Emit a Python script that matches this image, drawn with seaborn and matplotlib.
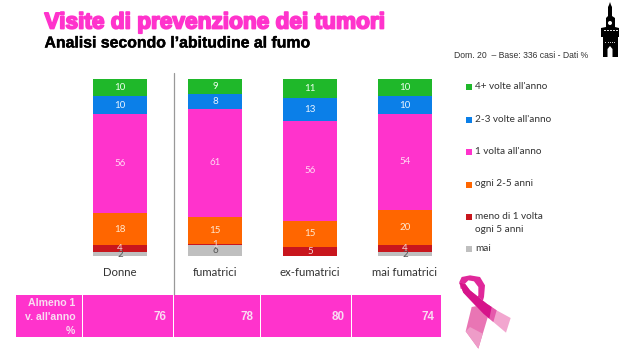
import numpy as np
import matplotlib
matplotlib.use("Agg")
import matplotlib.pyplot as plt
import matplotlib.patheffects as pe
from matplotlib.patches import Rectangle, Polygon, Circle
import seaborn as sns

W, H = 638, 359
groups = ["Donne", "fumatrici", "ex-fumatrici", "mai fumatrici"]
mai = [2, 6, 0, 2]
meno = [4, 1, 5, 4]
ogni = [18, 15, 15, 20]
una = [56, 61, 56, 54]
due = [10, 8, 13, 10]
quattro = [10, 9, 11, 10]
series_names = ["mai", "meno di 1 volta\nogni 5 anni", "ogni 2-5 anni",
                "1 volta all'anno", "2-3 volte all'anno", "4+ volte all'anno"]
series_vals = [mai, meno, ogni, una, due, quattro]
colors = ["#BFBFBF", "#C8161D", "#FF6600", "#FF33CC", "#0B7FE8", "#1FB82A"]
label_cols = ["#555555", "#F4D9D9", "#FFE9D0", "#FFD9F3", "#EAF4FF", "#EFFFEF"]
legend_y = [249, 217, 184.5, 152, 120, 87]
almeno = [76, 78, 80, 74]

sns.set_theme(style="white")
plt.rcParams["font.family"] = ["Lato", "DejaVu Sans"]
fig = plt.figure(figsize=(W / 100, H / 100), dpi=100, facecolor="white")

# chart area
ax = fig.add_axes([72.5 / W, 1 - 256 / H, 380 / W, 177.5 / H])
bottom = np.zeros(4)
for vals, c, lc in zip(series_vals, colors, label_cols):
    sns.barplot(x=groups, y=vals, bottom=bottom, color=c, saturation=1,
                width=0.568, ax=ax, errorbar=None, linewidth=0)
    cont = ax.containers[-1]
    ax.bar_label(cont, labels=[str(v) if v else "" for v in vals],
                 label_type="center", fontsize=7, color=lc)
    bottom = bottom + np.array(vals)
ax.set_xlim(-0.5, 3.5)
ax.set_ylim(0, 100)
ax.set_yticks([])
ax.set_ylabel("")
ax.tick_params(axis="x", length=0, pad=8, labelsize=8.2, labelcolor="#333333")
sns.despine(ax=ax, left=True, bottom=True, top=True, right=True)
ax.patch.set_alpha(0)

# overlay in pixel coordinates
ov = fig.add_axes([0, 0, 1, 1], zorder=-1)
ov2 = fig.add_axes([0, 0, 1, 1], zorder=5)
for a in (ov, ov2):
    a.set_xlim(0, W)
    a.set_ylim(H, 0)
    a.axis("off")
    a.patch.set_alpha(0)

ov2.text(44.5, 22, "Visite di prevenzione dei tumori", fontsize=16.3, fontweight="bold",
         family="Liberation Sans", color="#FF33CC", va="center", ha="left",
         path_effects=[pe.withStroke(linewidth=1.3, foreground="#FF33CC")])
ov2.text(44.5, 43, "Analisi secondo l\u2019abitudine al fumo", fontsize=11.4, fontweight="bold",
         family="Liberation Sans", color="black", va="center", ha="left",
         path_effects=[pe.withStroke(linewidth=0.3, foreground="black")])
ov2.text(454, 55, "Dom. 20  \u2013 Base: 336 casi - Dati %", fontsize=6.25,
         family="Liberation Sans", color="#333333", va="center", ha="left")

ov.plot([173.5, 173.5], [73, 295], color="#999999", lw=0.9)

# legend
for name, c, y in zip(series_names, colors, legend_y):
    ov2.add_patch(Rectangle((466, y - 3), 6, 6, color=c, lw=0))
    ov2.text(475, y - 5, name, fontsize=7.2, color="#333333", va="top", ha="left", linespacing=1.6)

# bottom table
edges = [16, 82.5, 173.5, 260.5, 351.5, 442]
for l, r in zip(edges[:-1], edges[1:]):
    ov2.add_patch(Rectangle((l, 295), r - l - 0.8, 42, color="#FF33CC", lw=0))
ov2.text(75.5, 317, "Almeno 1\nv. all'anno\n%", fontsize=7.6, fontweight="bold",
         family="Liberation Sans", color="#F9DDF2", ha="right", va="center", linespacing=1.45)
for r, v in zip(edges[2:], almeno):
    ov2.text(r - 7, 316.5, str(v), fontsize=8.4, fontweight="bold",
             family="Liberation Sans", color="#F9DDF2", ha="right", va="center")

# tower icon
tower = [(610, 2), (611, 5), (612, 7), (612, 16), (615, 18), (615, 27), (619, 28),
         (619, 37), (618, 37), (618, 57), (612.5, 57), (612.5, 49), (610, 46), (607.5, 49),
         (607.5, 57), (603, 57), (603, 37), (601, 37), (601, 28), (606, 27), (606, 18), (608, 16),
         (608, 7), (609, 5)]
ov2.add_patch(Polygon(tower, closed=True, color="black", lw=0))
ov2.add_patch(Circle((610, 23), 2, color="white", lw=0))
for xd in (605, 608, 611, 614, 617):
    ov2.add_patch(Rectangle((xd - 0.6, 29.5), 1.2, 1.2, color="#DDDDDD", lw=0))
for xd in (605.5, 608, 610, 612, 614.5):
    ov2.add_patch(Rectangle((xd - 0.5, 42), 1, 1.2, color="#CCCCCC", lw=0))

# ribbon icon
def rib(pts, color):
    ov2.add_patch(Polygon([(450 + x / 3, 272 + y / 3) for x, y in pts], closed=True, color=color, lw=0))

rib([(65, 105), (47, 178), (85, 230), (115, 130), (92, 100)], "#E975B4")
rib([(60, 165), (47, 178), (85, 230), (98, 185)], "#EE9CC8")
rib([(28, 30), (35, 15), (60, 10), (90, 15), (105, 40), (102, 75), (92, 108), (72, 90), (85, 70),
     (85, 45), (72, 28), (55, 25), (45, 35), (45, 55), (32, 50)], "#E0289A")
rib([(28, 32), (40, 62), (100, 125), (130, 150), (168, 182), (182, 138), (140, 115), (110, 95), (60, 55), (45, 35)], "#F2A6CF")
rib([(28, 32), (40, 62), (100, 125), (130, 150), (140, 115), (110, 95), (60, 55), (45, 35)], "#E55AAC")
rib([(28, 32), (40, 62), (100, 125), (118, 140), (125, 105), (110, 95), (60, 55), (45, 35)], "#D6148A")

fig.savefig("out.png", dpi=100, facecolor="white")
